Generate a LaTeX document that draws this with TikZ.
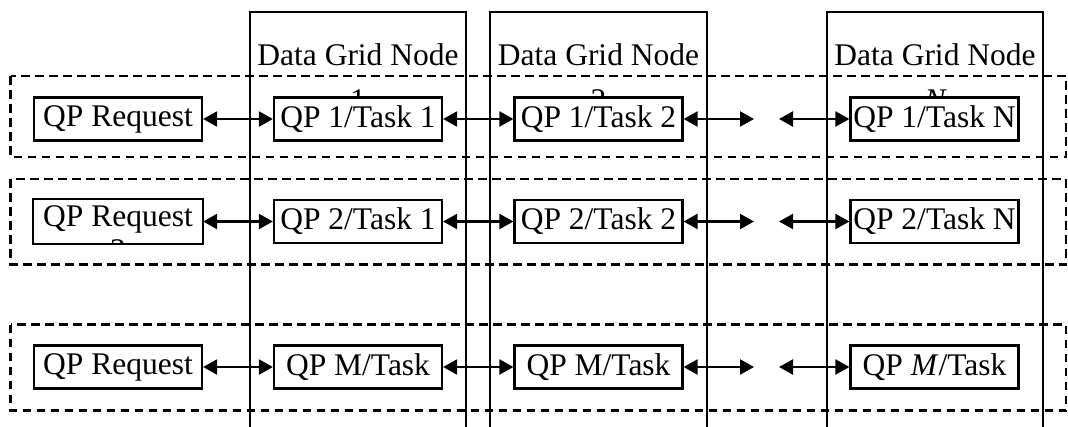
\documentclass[tikz,border=0pt]{standalone}
\usepackage{fontspec}
\setmainfont{Liberation Serif}
\usetikzlibrary{arrows.meta}
\begin{document}
\begin{tikzpicture}[x=1pt,y=-1pt,
  every node/.style={font=\fontsize{31.5}{36}\selectfont, inner sep=0pt},
  rowbox/.style={draw, line width=2.2pt, dash pattern=on 8.5pt off 5.5pt},
  colbox/.style={draw, line width=2.2pt},
  taskbox/.style={draw, line width=2.2pt, fill=white, minimum width=168pt, minimum height=43pt},
  link/.style={line width=2.2pt, {Triangle[length=14pt,width=15pt]}-{Triangle[length=14pt,width=15pt]}}]
\useasboundingbox (0,0) rectangle (1068,426);
% dashed rows
\draw[rowbox] (10.5,76) rectangle (1066,157);
\draw[rowbox] (10.5,179) rectangle (1066,264.5);
\draw[rowbox] (10.5,324.5) rectangle (1066,410.5);
% columns
\draw[colbox] (250,427) -- (250,12) -- (466,12) -- (466,427);
\draw[colbox] (490,427) -- (490,12) -- (707,12) -- (707,427);
\draw[colbox] (827,427) -- (827,12) -- (1043,12) -- (1043,427);
\node[anchor=base] (c1) at (358,65) {Data Grid Node};
\node[anchor=base] (c2) at (598.5,65) {Data Grid Node};
\node[anchor=base] (c3) at (935,65) {Data Grid Node};
\node[anchor=base] (c1n) at (358,110) {1};
\node[anchor=base] (c2n) at (598.5,110) {2};
\node[anchor=base] (c3n) at (935,110) {\itshape N};
% row 1
\node[taskbox] (r1) at (118,119) {QP Request};
\node[taskbox] (a1) at (358,119) {QP 1/Task 1};
\node[taskbox] (b1) at (598.5,119) {QP 1/Task 2};
\node[taskbox] (n1) at (934.5,119) {QP 1/Task N};
% row 2
\node[taskbox, draw=none] (r2) at (118,221.5) {};
\node[anchor=base] (r2t) at (118,226.5) {QP Request};
\begin{scope}
\clip (r2.south west) rectangle (r2.north east);
\node[anchor=base] (r2n) at (118,260) {2};
\end{scope}
\draw[line width=2.2pt] (r2.south west) rectangle (r2.north east);
\node[taskbox] (a2) at (358,221.5) {QP 2/Task 1};
\node[taskbox] (b2) at (598.5,221.5) {QP 2/Task 2};
\node[taskbox] (n2) at (934.5,221.5) {QP 2/Task N};
% row 3
\node[taskbox] (r3) at (118,367) {QP Request};
\node[taskbox] (a3) at (358,367) {QP M/Task};
\node[taskbox] (b3) at (598.5,367) {QP M/Task};
\node[taskbox] (n3) at (934.5,367) {QP \textit{M}/Task};
% free ends
\coordinate (e1) at (754,119);
\coordinate (f1) at (779,119);
\coordinate (e2) at (754,221.5);
\coordinate (f2) at (779,221.5);
\coordinate (e3) at (754,367);
\coordinate (f3) at (779,367);
% links
\foreach \i in {1,2,3}{
  \draw[link] (r\i.east) -- (a\i.west);
  \draw[link] (a\i.east) -- (b\i.west);
  \draw[link] (b\i.east) -- (e\i);
  \draw[link] (f\i) -- (n\i.west);
}
\end{tikzpicture}
\end{document}
